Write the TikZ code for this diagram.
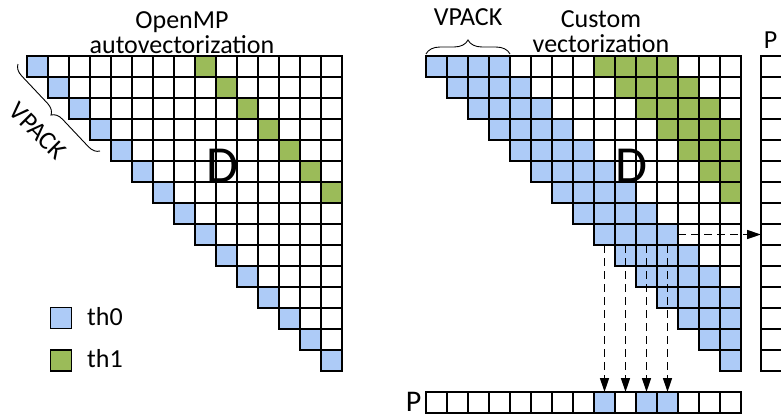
\documentclass[tikz,border=0pt]{standalone}
\usepackage{fontspec}
\setmainfont{Carlito}
\usetikzlibrary{arrows.meta,decorations.pathreplacing}

\definecolor{thzero}{RGB}{173,203,247}
\definecolor{thone}{RGB}{155,187,89}

\tikzset{
  cell/.style={draw=black, line width=1.2pt, minimum size=21pt,
               inner sep=0pt, outer sep=0pt},
  lbl/.style={font=\fontsize{26}{30}\selectfont, inner sep=0pt},
  big/.style={font=\fontsize{52}{60}\selectfont, inner sep=0pt},
  dasharrow/.style={line width=1.4pt, dash pattern=on 8pt off 5pt,
                    -{Triangle[length=14pt,width=9pt]}},
  bracedeco/.style={decorate, line width=0.9pt,
                    decoration={brace, amplitude=#1}},
}

\begin{document}
\begin{tikzpicture}[x=1pt, y=-1pt]
  \path[use as bounding box, clip] (0,0) rectangle (781,413);

  % left matrix: upper triangle, diagonal for th0, one diagonal for th1
  \foreach \i in {0,...,14}{
    \foreach \j in {\i,...,14}{
      \pgfmathtruncatemacro\d{\j-\i}
      \def\c{white}
      \ifnum\d=0 \def\c{thzero}\fi
      \ifnum\d=8 \def\c{thone}\fi
      \node[cell, fill=\c] (L-\i-\j) at (37.5+21*\j, 66.5+21*\i) {};
    }
  }

  % right matrix: bands of VPACK = 4 diagonals per thread
  \foreach \i in {0,...,14}{
    \foreach \j in {\i,...,14}{
      \pgfmathtruncatemacro\d{\j-\i}
      \def\c{white}
      \ifnum\d<4 \def\c{thzero}\fi
      \ifnum\d>7 \ifnum\d<12 \def\c{thone}\fi\fi
      \node[cell, fill=\c] (R-\i-\j) at (436.5+21*\j, 66.5+21*\i) {};
    }
  }

  % vector P along the bottom
  \foreach \j in {0,...,14}{
    \def\c{white}
    \ifnum\j=8 \def\c{thzero}\fi
    \ifnum\j=10 \def\c{thzero}\fi
    \ifnum\j=11 \def\c{thzero}\fi
    \node[cell, fill=\c] (P-\j) at (436.5+21*\j, 402.5) {};
  }

  % vector P on the right
  \foreach \i in {0,...,14}{
    \node[cell, fill=white] (Q-\i) at (771.5, 66.5+21*\i) {};
  }

  % titles
  \node[lbl, anchor=base] (omp1) at (182,28) {OpenMP};
  \node[lbl, anchor=base] (omp2) at (182,53) {autovectorization};
  \node[lbl, anchor=base] (cus1) at (601,27) {Custom};
  \node[lbl, anchor=base] (cus2) at (601,52) {vectorization};

  \node[big] (DL) at (222.5,166) {D};
  \node[big] (DR) at (631.5,166) {D};

  \node[lbl, anchor=base] (PQ) at (770.5,48) {P};
  \node[lbl, anchor=base, font=\fontsize{30}{34}\selectfont] (PP) at (413.5,411.5) {P};

  % VPACK braces
  \coordinate (bl1) at (18,64);
  \coordinate (bl2) at (100,151);
  \draw[bracedeco=11pt] (bl2) -- (bl1);
  \node[lbl, rotate=-45] (vpl) at (38,131) {VPACK};

  \coordinate (br1) at (426,54);
  \coordinate (br2) at (510,54);
  \draw[bracedeco=14pt] (br1) -- (br2);
  \node[lbl, anchor=base] (vpr) at (468,25) {VPACK};

  % legend
  \node[cell, fill=thzero] (lg0) at (61,318) {};
  \node[lbl, anchor=base west] (lt0) at (87,325) {th0};
  \node[cell, fill=thone] (lg1) at (61,360.5) {};
  \node[lbl, anchor=base west] (lt1) at (87,367) {th1};

  % data movement into P
  \foreach \j in {8,...,11}{
    \draw[dasharrow] (R-8-\j.south) -- (P-\j.north);
  }
  \draw[dasharrow] (R-8-11.east) -- (Q-8.west);
\end{tikzpicture}
\end{document}
